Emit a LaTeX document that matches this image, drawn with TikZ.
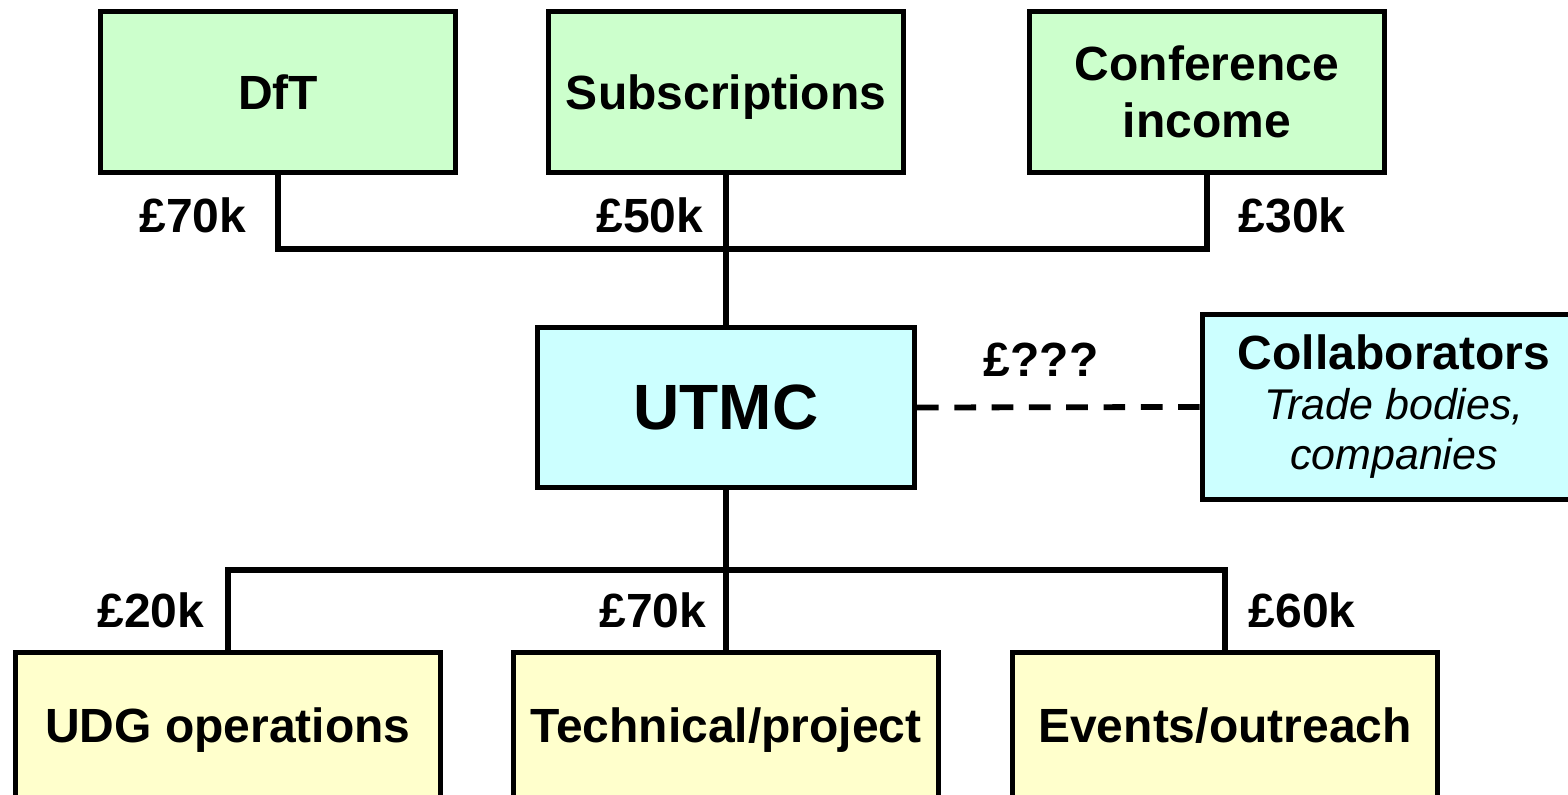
\documentclass[tikz,border=0pt]{standalone}
\usepackage{fontspec}
\setmainfont{Liberation Sans}
\definecolor{fundgreen}{HTML}{CCFFCC}
\definecolor{utmccyan}{HTML}{CCFFFF}
\definecolor{spendyellow}{HTML}{FFFFCC}
\tikzset{
  box/.style={draw,line width=2.5pt,inner sep=0pt,align=center,font=\bfseries\fontsize{24}{28.5}\selectfont},
  income/.style={box,fill=fundgreen,minimum width=177.5pt,minimum height=80.5pt},
  oneline/.style={text height=17.2pt,text depth=0pt},
  spend/.style={box,fill=spendyellow,minimum width=212.5pt,minimum height=75pt,text height=17.2pt,text depth=2.7pt},
  amount/.style={inner sep=0pt,font=\bfseries\fontsize{24}{28.5}\selectfont},
  link/.style={line width=2.6pt}
}
\begin{document}
\begin{tikzpicture}[x=0.5pt,y=-0.5pt]
	\useasboundingbox (0,0) rectangle (1568,795);
	\clip (0,0) rectangle (1568,795);
	% sources of money
	\node[income,oneline] (dft) at (278,92) {DfT};
	\node[income,oneline] (subs) at (726,92) {Subscriptions};
	\node[income] (conf) at (1207,92) {Conference\\income};
	% UTMC and partners
	\node[box,fill=utmccyan,minimum width=188.5pt,minimum height=80pt,font=\bfseries\fontsize{32}{36}\selectfont] (utmc) at (726,407.5) {UTMC};
	\node[box,fill=utmccyan,minimum width=192pt,minimum height=92.5pt,font=\itshape\fontsize{21.5}{25}\selectfont] (collab) at (1394,407) {{\upshape\bfseries\fontsize{24}{25}\selectfont Collaborators}\\Trade bodies,\\companies};
	% spending
	\node[spend] (udg) at (228,727.5) {UDG operations};
	\node[spend] (tech) at (726,727.5) {Technical/project};
	\node[spend] (events) at (1225,727.5) {Events/outreach};

	\coordinate (topbar) at (726,249);
	\coordinate (lowbar) at (726,570);
	\draw[link] (dft.south) |- (topbar) -| (conf.south);
	\draw[link] (subs.south) -- (utmc.north);
	\draw[link] (udg.north) |- (lowbar) -| (events.north);
	\draw[link] (utmc.south) -- (tech.north);
	\draw[link,line width=2.9pt,dash pattern=on 10.85pt off 7.8pt] (utmc.east) -- (collab.west);

	\node[amount] (a1) at (193,215) {£70k};
	\node[amount] (a2) at (650,215) {£50k};
	\node[amount] (a3) at (1292,215) {£30k};
	\node[amount] (a4) at (1041,360) {£???};
	\node[amount] (a5) at (151,610) {£20k};
	\node[amount] (a6) at (653,610) {£70k};
	\node[amount] (a7) at (1302,610) {£60k};
\end{tikzpicture}
\end{document}
